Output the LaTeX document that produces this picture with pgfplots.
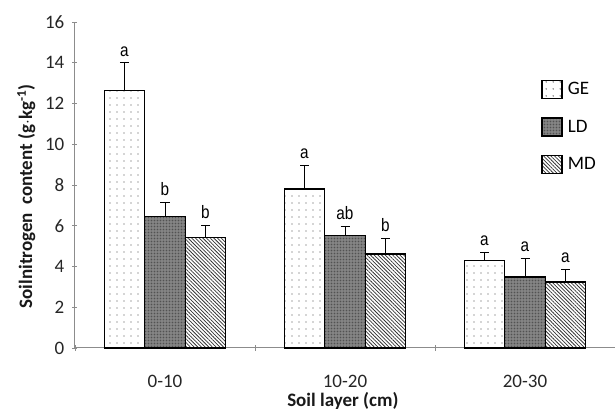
\documentclass[border=0pt]{standalone}
\usepackage{pgfplots}
\pgfplotsset{compat=1.18}
\usepackage{pgfplotstable}
\usepackage{fontspec}
\setmainfont{Carlito}
\newfontfamily\letterfont[FakeStretch=0.85]{Liberation Sans}
\usetikzlibrary{patterns,patterns.meta}

\pgfplotstableread{
x ge geerr ld lderr md mderr
0 12.65 1.35 6.47 0.68 5.44 0.58
1 7.80 1.17 5.54 0.44 4.61 0.78
2 4.31 0.40 3.48 0.93 3.24 0.63
}\data

\tikzset{
  geStyle/.style={draw=black, line width=1.2pt, fill=white,
    postaction={pattern={Dots[distance=6.5pt,radius=0.75pt]}, pattern color=black!70}},
  ldStyle/.style={draw=black, line width=1.2pt, fill=black!45,
    postaction={pattern={Dots[distance=1.5pt,radius=0.4pt]}, pattern color=black!80}},
  mdStyle/.style={draw=black, line width=1.2pt, fill=white,
    postaction={pattern={Lines[angle=-45,distance=2.6pt,line width=0.75pt]}, pattern color=black!80}},
}

\begin{document}
\begin{tikzpicture}
\begin{axis}[
  at={(0,0)}, anchor=south west,
  scale only axis, width=540pt, height=326pt,
  ybar, bar width=40.5pt,
  xmin=-0.5, xmax=2.5, ymin=0, ymax=16,
  ytick={0,2,...,16},
  xtick={0,1,2}, xticklabels={0-10,10-20,20-30},
  minor xtick={-0.5,0.5,1.5,2.5},
  major x tick style={draw=none},
  minor x tick style={draw=black!45, line width=0.8pt},
  y tick style={draw=black!45, line width=0.8pt},
  tick align=outside, major tick length=5pt, minor tick length=6pt,
  axis lines=left, axis line style={-, draw=black!45, line width=1pt},
  /pgf/number format/assume math mode=true,
  tick label style={font=\fontsize{19}{21}\selectfont, text=black!85},
  xticklabel style={anchor=center, yshift=-31pt},
  yticklabel style={anchor=east, inner sep=0pt, xshift=-8pt},
  xlabel={\textbf{Soil layer (cm)}},
  ylabel={\textbf{Soilnitrogen\ \ content (g$\cdot$kg\textsuperscript{-1})}},
  label style={font=\fontsize{19}{21}\selectfont, text=black!90},
  x label style={at={(axis description cs:0.496,-0.162)}, anchor=center},
  y label style={at={(axis description cs:-0.09,0.465)}, anchor=center},
  clip=false,
  error bars/error bar style={black, line width=0.9pt},
  legend style={at={(rel axis cs:0.863,0.83)}, anchor=north west, draw=none, fill=none,
    font=\fontsize{19}{21}\selectfont, row sep=18pt, cells={anchor=west},
    inner xsep=0pt},
  legend image code/.code={\draw[#1, line width=1.6pt] (0pt,-9pt) rectangle (20pt,9pt);},
  nodes near coords style={font=\letterfont\fontsize{18}{20}\selectfont, anchor=south, yshift=3pt, text=black},
]
\addplot[geStyle, bar shift=-40.5pt,
  error bars/.cd, y dir=plus, y explicit,
  error mark options={rotate=90, mark size=4.5pt, line width=0.9pt, black}]
  table[x=x, y=ge, y error=geerr]{\data};
\addplot[ldStyle, bar shift=0pt,
  error bars/.cd, y dir=plus, y explicit,
  error mark options={rotate=90, mark size=4.5pt, line width=0.9pt, black}]
  table[x=x, y=ld, y error=lderr]{\data};
\addplot[mdStyle, bar shift=40.5pt,
  error bars/.cd, y dir=plus, y explicit,
  error mark options={rotate=90, mark size=4.5pt, line width=0.9pt, black}]
  table[x=x, y=md, y error=mderr]{\data};
\legend{\hspace{3pt}GE,\hspace{3pt}LD,\hspace{3pt}MD}
% significance letters at the top of the error bars
\addplot[forget plot, draw=none, fill=none, bar shift=-40.5pt,
  nodes near coords, point meta=explicit symbolic]
  coordinates {(0,14.00) [a] (1,8.97) [a] (2,4.71) [a]};
\addplot[forget plot, draw=none, fill=none, bar shift=0pt,
  nodes near coords, point meta=explicit symbolic]
  coordinates {(0,7.15) [b] (1,5.98) [ab] (2,4.41) [a]};
\addplot[forget plot, draw=none, fill=none, bar shift=40.5pt,
  nodes near coords, point meta=explicit symbolic]
  coordinates {(0,6.02) [b] (1,5.39) [b] (2,3.87) [a]};
\end{axis}
\pgfresetboundingbox
\path[use as bounding box] (-75pt,-66pt) rectangle (540pt,348pt);
\end{tikzpicture}
\end{document}
